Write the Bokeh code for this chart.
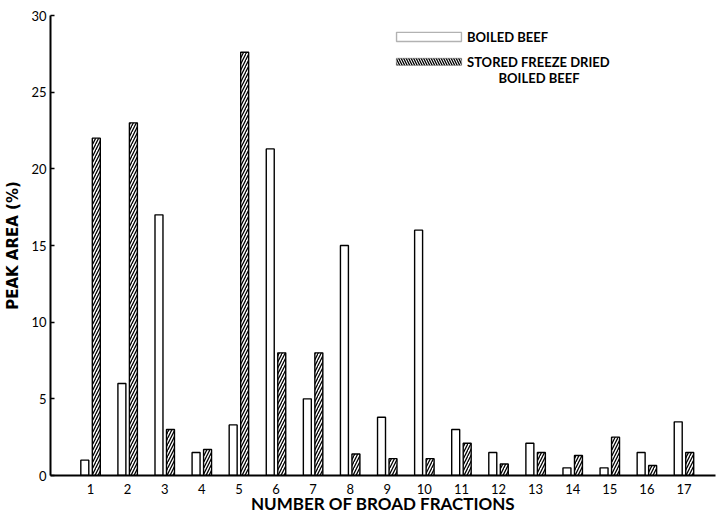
from bokeh.plotting import figure
from bokeh.models import ColumnDataSource, Range1d, FixedTicker, BoxAnnotation, Label
from bokeh.transform import dodge
from bokeh.embed import file_html
from bokeh.resources import INLINE

fractions = list(range(1, 18))
boiled_beef = [1.0, 6.0, 17.0, 1.5, 3.3, 21.3, 5.0, 15.0, 3.8, 16.0, 3.0, 1.5, 2.1, 0.5, 0.5, 1.5, 3.5]
stored_fd = [22.0, 23.0, 3.0, 1.7, 27.6, 8.0, 8.0, 1.4, 1.1, 1.1, 2.1, 0.75, 1.5, 1.3, 2.5, 0.65, 1.5]
y_ticks = [0, 5, 10, 15, 20, 25, 30]

FONT = "Lato"

src = ColumnDataSource(dict(x=fractions, a=boiled_beef, b=stored_fd))

p = figure(width=722, height=516, output_backend="svg", toolbar_location=None,
           x_range=Range1d(-0.08, 17.85), y_range=Range1d(0, 30),
           min_border_left=50, min_border_right=7, min_border_top=15, min_border_bottom=40)
p.outline_line_color = None
p.xgrid.grid_line_color = None
p.ygrid.grid_line_color = None
p.background_fill_color = "white"
p.border_fill_color = "white"

bw = 0.215
p.vbar(x=dodge("x", -0.155, range=p.x_range), top="a", width=bw, source=src,
       fill_color="white", line_color="black", line_width=1.4)
p.vbar(x=dodge("x", 0.155, range=p.x_range), top="b", width=bw, source=src,
       fill_color="white", line_color="black", line_width=1.4,
       hatch_pattern="/", hatch_color="black", hatch_scale=6, hatch_weight=1.3)

# axes
p.xaxis.ticker = FixedTicker(ticks=fractions)
p.xaxis.major_tick_line_color = None
p.xaxis.minor_tick_line_color = None
p.xaxis.axis_line_width = 2
p.xaxis.axis_line_color = "black"
p.xaxis.major_label_text_font = FONT
p.xaxis.major_label_text_font_size = "13px"
p.xaxis.major_label_text_color = "black"
p.xaxis.major_label_standoff = 2
p.xaxis.axis_label = "NUMBER OF BROAD FRACTIONS"
p.xaxis.axis_label_text_font = FONT
p.xaxis.axis_label_text_font_style = "bold"
p.xaxis.axis_label_text_font_size = "17px"
p.xaxis.axis_label_text_color = "black"
p.xaxis.axis_label_standoff = -4

p.yaxis.ticker = FixedTicker(ticks=y_ticks)
p.yaxis.major_tick_in = 4
p.yaxis.major_tick_out = 0
p.yaxis.minor_tick_line_color = None
p.yaxis.axis_line_width = 2
p.yaxis.axis_line_color = "black"
p.yaxis.major_tick_line_width = 1.5
p.yaxis.major_tick_line_color = "black"
p.yaxis.major_label_text_font = FONT
p.yaxis.major_label_text_font_size = "13px"
p.yaxis.major_label_text_color = "black"
p.yaxis.major_label_standoff = 4
p.yaxis.axis_label = "PEAK AREA (%)"
p.yaxis.axis_label_text_font = "DejaVu Sans"
p.yaxis.axis_label_text_font_style = "bold"
p.yaxis.axis_label_text_font_size = "15px"
p.yaxis.axis_label_text_color = "black"
p.yaxis.axis_label_standoff = 6

# legend (custom drawn)
p.add_layout(BoxAnnotation(left=9.25, right=11.0, bottom=28.3, top=28.9,
                           fill_color="white", fill_alpha=1, line_color="black", line_width=1.4))
p.add_layout(BoxAnnotation(left=9.25, right=11.0, bottom=26.75, top=27.2,
                           fill_color="white", fill_alpha=1, line_color="black", line_width=1.4,
                           hatch_pattern="\\", hatch_color="black", hatch_scale=5, hatch_weight=1.3))
lab_kw = dict(text_font=FONT, text_font_size="13px", text_font_style="bold",
              text_baseline="middle", text_color="black")
p.add_layout(Label(x=11.15, y=28.6, text="BOILED BEEF", **lab_kw))
p.add_layout(Label(x=11.15, y=26.98, text="STORED FREEZE DRIED", **lab_kw))
p.add_layout(Label(x=12.0, y=25.95, text="BOILED BEEF", **lab_kw))

open("out.html", "w").write(file_html(p, INLINE))
